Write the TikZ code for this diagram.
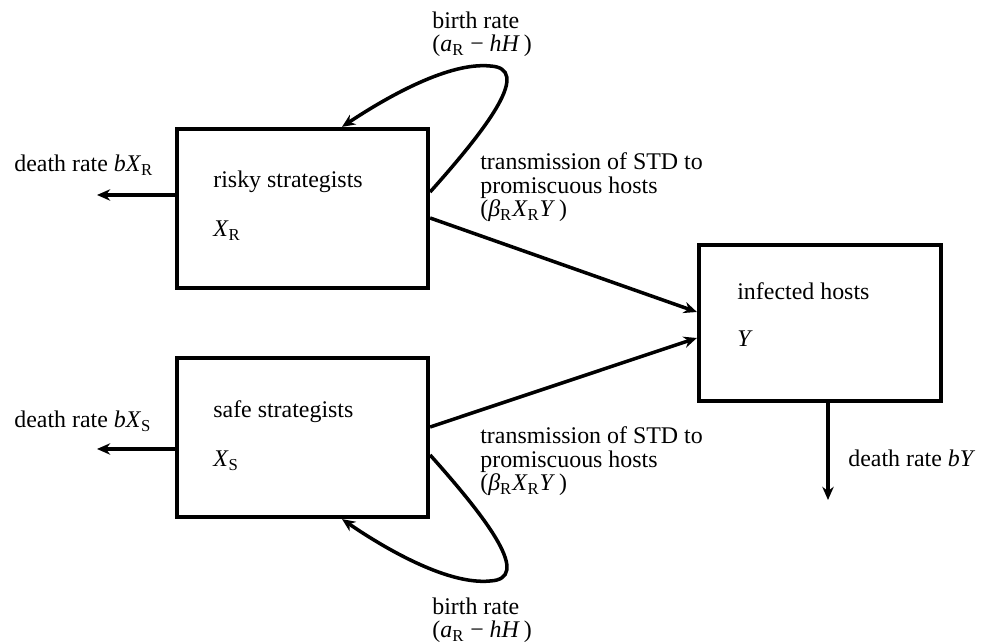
\documentclass[tikz,border=0pt]{standalone}
\usepackage{fontspec}
\setmainfont{Liberation Serif}
\usetikzlibrary{arrows.meta}

\begin{document}
\begin{tikzpicture}[
  x=1cm,
  y=1cm,
  >={Stealth[length=7.5pt,width=6.5pt]},
  every node/.style={font=\fontsize{13.6}{13.6}\selectfont},
  pop/.style={draw, rectangle, line width=2.4pt, minimum width=5.02cm, minimum height=3.18cm, inner sep=0pt},
  txt/.style={anchor=base west, inner sep=0pt, align=left},
  flow/.style={->, line width=2pt}
]
\useasboundingbox (0,0) rectangle (19.76,12.88);

\node[pop] (R) at (6.05,8.71) {};
\node[pop] (S) at (6.05,4.13) {};
\node[pop, minimum width=4.84cm, minimum height=3.12cm] (I) at (16.4,6.42) {};

\node[txt] (Rname) at (4.26,9.12) {risky strategists};
\node[txt] (Rvar) at (4.26,8.14) {\textit{X}\textsubscript{R}};
\node[txt] (Sname) at (4.26,4.52) {safe strategists};
\node[txt] (Svar) at (4.26,3.54) {\textit{X}\textsubscript{S}};
\node[txt] (Iname) at (14.74,6.88) {infected hosts};
\node[txt] (Ivar) at (14.74,5.94) {\textit{Y}};

\coordinate (Rdeath) at (1.94,8.98);
\coordinate (Sdeath) at (1.94,3.90);
\coordinate (Ideath) at (16.56,2.88);
\draw[flow] (R.west |- Rdeath) -- (Rdeath);
\draw[flow] (S.west |- Sdeath) -- (Sdeath);
\draw[flow] (I.south -| Ideath) -- (Ideath);
\node[txt] (Rdlab) at (0.28,9.44) {death rate \textit{bX}\textsubscript{R}};
\node[txt] (Sdlab) at (0.28,4.32) {death rate \textit{bX}\textsubscript{S}};
\node[txt] (Idlab) at (16.96,3.54) {death rate \textit{bY}};

\coordinate (Rtx) at (8.6,8.52);
\coordinate (Stx) at (8.6,4.34);
\coordinate (Iin1) at (13.94,6.64);
\coordinate (Iin2) at (13.94,6.12);
\draw[flow] (R.east |- Rtx) -- (I.west |- Iin1);
\draw[flow] (S.east |- Stx) -- (I.west |- Iin2);
\node[txt] (Rtxlab) at (9.6,8.54) {transmission of STD to\\promiscuous hosts\\(\textit{β}\textsubscript{R}\textit{X}\textsubscript{R}\textit{Y}\,)};
\node[txt] (Stxlab) at (9.6,3.06) {transmission of STD to\\promiscuous hosts\\(\textit{β}\textsubscript{R}\textit{X}\textsubscript{R}\textit{Y}\,)};

\coordinate (Rloop) at (8.6,9.04);
\coordinate (Rin) at (6.84,10.34);
\coordinate (Sloop) at (8.6,3.78);
\coordinate (Sin) at (6.84,2.48);
\draw[flow] (R.east |- Rloop) .. controls (9.8,10.38) and (10.64,11.52) .. (9.8,11.56)
  .. controls (9.0,11.64) and (7.8,10.98) .. (R.north -| Rin);
\draw[flow] (S.east |- Sloop) .. controls (9.8,2.44) and (10.64,1.30) .. (9.8,1.26)
  .. controls (9.0,1.18) and (7.8,1.84) .. (S.south -| Sin);
\node[txt] (Rbirth) at (8.64,11.84) {birth rate\\(\textit{a}\textsubscript{R} − \textit{hH}\,)};
\node[txt] (Sbirth) at (8.64,0.12) {birth rate\\(\textit{a}\textsubscript{R} − \textit{hH}\,)};
\end{tikzpicture}
\end{document}
